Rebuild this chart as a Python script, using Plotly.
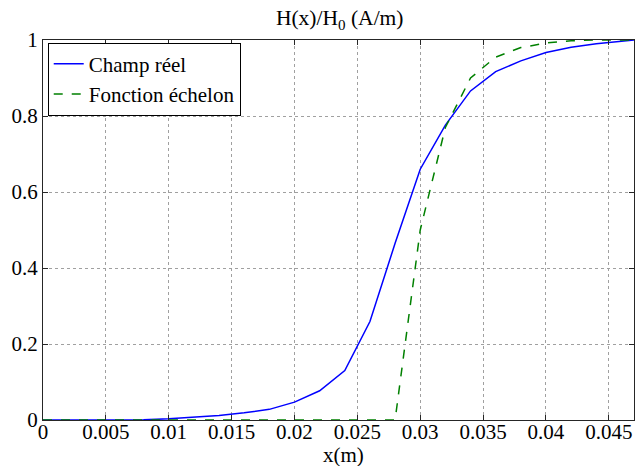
import plotly.graph_objects as go

x_vals = [0, 0.002, 0.004, 0.006, 0.008, 0.010, 0.012, 0.014, 0.016, 0.018,
          0.020, 0.022, 0.024, 0.026, 0.028, 0.030, 0.032, 0.034, 0.036, 0.038,
          0.040, 0.042, 0.044, 0.046, 0.047]
champ_reel = [0, 0, 0, 0, 0.0005, 0.003, 0.007, 0.012, 0.019, 0.028,
              0.047, 0.077, 0.13, 0.259, 0.465, 0.66, 0.776, 0.866, 0.917, 0.945,
              0.967, 0.981, 0.99, 0.997, 1.0]
fonction_echelon = [0, 0, 0, 0, 0, 0, 0, 0, 0, 0,
                    0, 0, 0, 0, 0, 0.5, 0.77, 0.90, 0.955, 0.98,
                    0.992, 0.998, 1.0, 1.0, 1.0]

x_ticks = [0, 0.005, 0.01, 0.015, 0.02, 0.025, 0.03, 0.035, 0.04, 0.045]
x_tick_labels = ["0", "0.005", "0.01", "0.015", "0.02", "0.025", "0.03", "0.035", "0.04", "0.045"]
y_ticks = [0, 0.2, 0.4, 0.6, 0.8, 1]
y_tick_labels = ["0", "0.2", "0.4", "0.6", "0.8", "1"]

FONT = "Liberation Serif, Times New Roman, serif"
FS = 21

fig = go.Figure()
fig.add_trace(go.Scatter(x=x_vals, y=champ_reel, mode="lines", name="Champ réel",
                         line=dict(color="#0000ff", width=1.5)))
fig.add_trace(go.Scatter(x=x_vals, y=fonction_echelon, mode="lines", name="Fonction échelon",
                         line=dict(color="#008000", width=1.5, dash="dash")))

axis_common = dict(
    showline=True, linecolor="#262626", linewidth=1, mirror="ticks",
    ticks="inside", ticklen=5, tickcolor="#262626",
    showgrid=True, gridcolor="#a0a0a0", griddash="dot", gridwidth=1,
    zeroline=False, automargin=False,
    tickfont=dict(family=FONT, size=FS, color="black"),
)

fig.update_layout(
    width=635, height=466,
    margin=dict(l=43, r=1, t=40, b=46),
    paper_bgcolor="white", plot_bgcolor="white",
    font=dict(family=FONT, size=FS, color="black"),
    title=dict(text="H(x)/H<sub>0</sub> (A/m)", x=0.535, xanchor="center",
               y=0.962, yanchor="middle", font=dict(family=FONT, size=21.5, color="black")),
    xaxis=dict(range=[0, 0.047], tickvals=x_ticks, ticktext=x_tick_labels,
               ticklabelstandoff=-7, **axis_common),
    yaxis=dict(range=[0, 1], tickvals=y_ticks, ticktext=y_tick_labels,
               ticklabelstandoff=0, **axis_common),
    legend=dict(x=0.008, y=0.993, xanchor="left", yanchor="top",
                bgcolor="white", bordercolor="black", borderwidth=1,
                font=dict(family=FONT, size=FS, color="black"),
                tracegroupgap=0, itemwidth=30),
    showlegend=True,
    annotations=[dict(text="x(m)", xref="paper", yref="paper", x=0.509, y=-0.093,
                      xanchor="center", yanchor="middle", showarrow=False,
                      font=dict(family=FONT, size=FS, color="black"))],
)

fig.write_html("out.html", config={"displayModeBar": False},
               post_script="document.body.style.margin='0';document.body.style.padding='0';")
